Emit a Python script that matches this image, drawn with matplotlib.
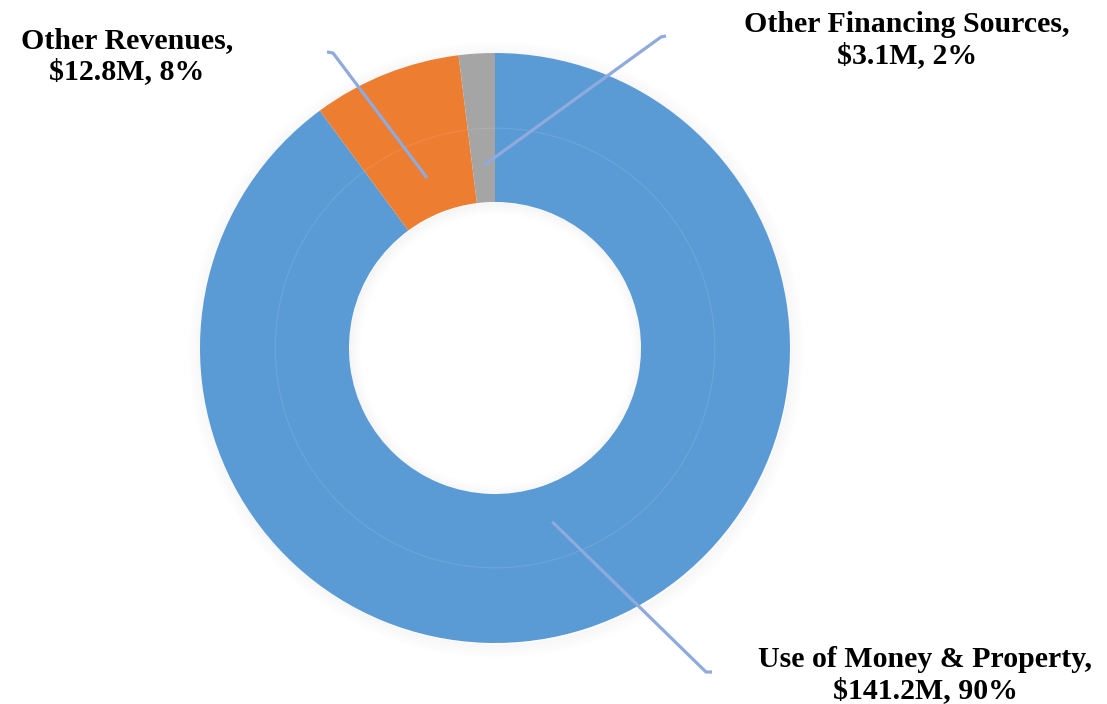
import numpy as np
import matplotlib
matplotlib.use("Agg")
import matplotlib.pyplot as plt
from matplotlib.patches import Circle

# data
categories = ["Use of Money & Property", "Other Revenues", "Other Financing Sources"]
amounts = [141.2, 12.8, 3.1]  # $M
percents = [90, 8, 2]
colors = ["#5B9BD5", "#ED7D31", "#A5A5A5"]

W, H = 1107, 704
cx, cy, R = 495, 348, 295  # donut centre / radius in pixels


def px(x, y):
    # pixel position -> data coords (1 unit = outer radius)
    return (x - cx) / R, (cy - y) / R


fig = plt.figure(figsize=(W / 100, H / 100), dpi=100)
ax = fig.add_axes([0, 0, 1, 1])

# soft shadow around the ring
for i in range(12):
    ax.add_patch(Circle((0.004, -0.006), 1.0 + i * 0.004, fill=False,
                        lw=1.6, ec="black", alpha=0.018 * (12 - i) / 12, zorder=0))

wedges, _ = ax.pie(amounts, colors=colors, startangle=90, counterclock=False,
                   radius=1.0, wedgeprops=dict(width=0.505, linewidth=0),
                   center=(0, 0))
for w in wedges:
    w.set_zorder(1)

ax.set_xlim(-cx / R, (W - cx) / R)
ax.set_ylim(-(H - cy) / R, cy / R)
ax.axis("off")

# faint boundary between the two rings
ax.add_patch(Circle((0, 0), 0.745, fill=False, lw=0.8, ec="white", alpha=0.1, zorder=2))

# inner shadow in the hole
for i in range(10):
    ax.add_patch(Circle((0.004, -0.006), 0.497 - i * 0.004, fill=False,
                        lw=1.6, ec="black", alpha=0.022 * (10 - i) / 10, zorder=0.5))

# leader lines + labels
label_ends = [((706, 672), (712, 672)), ((333, 53), (327, 52)), ((661, 37), (666, 36))]
label_pos = [(925, 675), (127, 56), (907, 40)]
fracs = np.array(amounts) / sum(amounts)
cum = np.cumsum(fracs) - fracs / 2
for i, w in enumerate(wedges):
    ang = np.deg2rad(90 - cum[i] * 360)
    x0, y0 = 0.62 * np.cos(ang), 0.62 * np.sin(ang)
    (ex, ey), (hx, hy) = label_ends[i]
    x1, y1 = px(ex, ey)
    x2, y2 = px(hx, hy)
    ax.plot([x0, x1, x2], [y0, y1, y2], color="#8FAADC", lw=2.3,
            solid_capstyle="butt", zorder=3)
    tx, ty = px(*label_pos[i])
    ax.text(tx, ty, f"{categories[i]},\n${amounts[i]}M, {percents[i]}%",
            ha="center", va="center", fontsize=21.5, fontweight="bold",
            family="Liberation Serif", color="black", linespacing=1.18, zorder=4)

fig.savefig("out.png", dpi=100)
